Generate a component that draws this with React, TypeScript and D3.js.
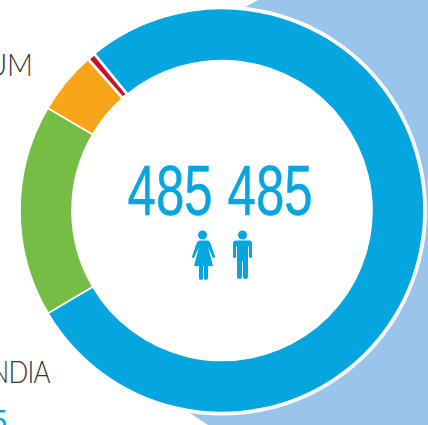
import React from "react";
import * as d3 from "d3";

const categories = ["Blue", "Red", "Orange", "Green"];
const values = [77.4, 0.63, 5.02, 16.95];
const colors = ["#05a5e0", "#c8102e", "#f9a51a", "#76bd45"];
const leftLabels = ["UM", "NDIA"];
const centerLabel = ["485", "485"];

const cx = 222, cy = 210.5, R = 202, r = 150;

export default function App() {
  const start = (-39.2 * Math.PI) / 180;
  const order = [values[0], values[3], values[2], values[1]];
  const cols = [colors[0], colors[3], colors[2], colors[1]];
  const pie = d3.pie<number>().sort(null).startAngle(start).endAngle(start + 2 * Math.PI);
  const arc = d3.arc<d3.PieArcDatum<number>>().innerRadius(r).outerRadius(R);
  const arcs = pie(order);
  return (
    <svg width={428} height={425} style={{ position: "fixed", left: 0, top: 0, display: "block", background: "#fff" }}>
      <polygon points="258,0 110,82 110,360 208,425 428,425 428,0" fill="#9ac4ea" />
      <circle cx={cx} cy={cy} r={R + 3} fill="#fff" />
      <g transform={`translate(${cx},${cy})`}>
        {arcs.map((d, i) => (
          <path key={categories[i]} d={arc(d) || ""} fill={cols[i]} stroke="#fff" strokeWidth={i === 3 ? 2.8 : 1.6} />
        ))}
      </g>
      <g fontFamily="Lato, 'Open Sans', sans-serif" fontWeight={300} fontSize={31} fill="#333">
        <text transform="translate(33,76) scale(0.92,1)" textAnchor="end">{leftLabels[0]}</text>
        <text transform="translate(50,383) scale(0.84,1)" textAnchor="end" letterSpacing={-0.8}>{leftLabels[1]}</text>
      </g>
      <text x={8} y={432} textAnchor="end" fontFamily="Lato, sans-serif" fontSize={31} fill="#05a5e0">5</text>
      <g fontFamily="'Liberation Sans', sans-serif" fontSize={71} fill="#05a5e0" stroke="#05a5e0" strokeWidth={0.4}>
        <text transform="translate(127.500,215) scale(0.72,1)">{centerLabel[0]}</text>
        <text transform="translate(227.500,215) scale(0.72,1)">{centerLabel[1]}</text>
      </g>
      <g fill="#05a5e0">
        <circle cx={202.5} cy={235} r={4.5} />
        <path d="M198,240.500 h9 q2.500,0 3.500,3 l4.500,13 q0,2 -2,1.500 l-5,-11 l5,19 h-5 v12 q0,2 -2,2 t-2,-2 v-12 h-1 v12 q0,2 -2,2 t-2,-2 v-12 h-5 l5,-19 l-5,11 q-2,0.500 -2,-1.500 l4.500,-13 q1,-3 3.500,-3 z" />
        <circle cx={242.5} cy={235} r={4.5} />
        <path d="M236,240.500 h13 q3,0 3,3 v13 q0,1.500 -1.500,1.500 t-1.500,-1.500 v-10 h-1 v30 q0,2.500 -2.500,2.500 t-2.500,-2.500 v-15 h-1 v15 q0,2.500 -2.500,2.500 t-2.500,-2.500 v-30 h-1 v10 q0,1.500 -1.500,1.500 t-1.500,-1.500 v-13 q0,-3 3,-3 z" />
      </g>
    </svg>
  );
}
